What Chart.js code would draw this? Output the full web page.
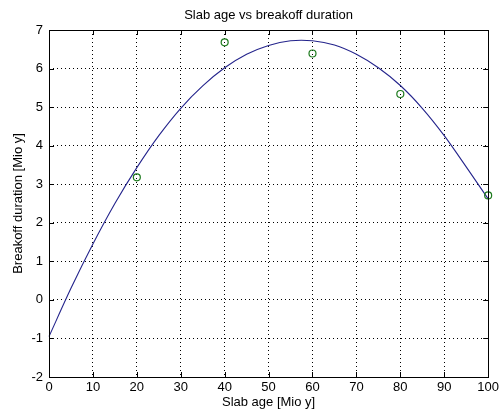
<!DOCTYPE html>
<html>
<head>
<meta charset="utf-8">
<script src="https://cdn.jsdelivr.net/npm/chart.js@4"></script>
<style>
  html, body { margin: 0; padding: 0; background: #ffffff; }
  #wrap { width: 502px; height: 415px; }
</style>
</head>
<body>
<div id="wrap"><canvas id="c" width="502" height="415"></canvas></div>
<script>
const chartTitle = 'Slab age vs breakoff duration';
const xAxisLabel = 'Slab age [Mio y]';
const yAxisLabel = 'Breakoff duration [Mio y]';

const xTicks = [0, 10, 20, 30, 40, 50, 60, 70, 80, 90, 100];
const yTicks = [-2, -1, 0, 1, 2, 3, 4, 5, 6, 7];

const sampleAges = [20, 40, 60, 80, 100];
const sampleDurations = [3.18, 6.68, 6.39, 5.34, 2.71];

const fitAges = [0, 5, 10, 15, 20, 25, 30, 35, 40, 45, 50, 55, 60, 65, 70, 75, 80, 85, 90, 95, 100];
const fitDurations = [-0.95, 0.30, 1.45, 2.50, 3.43, 4.26, 4.97, 5.55, 6.02, 6.37, 6.60, 6.72, 6.72, 6.61, 6.37, 6.02, 5.56, 4.97, 4.26, 3.45, 2.62];

const FONT = 'Liberation Sans, Arial, Helvetica, sans-serif';

const fitPoints = fitAges.map((x, i) => ({ x: x, y: fitDurations[i] }));
const samplePoints = sampleAges.map((x, i) => ({ x: x, y: sampleDurations[i] }));

const boxPlugin = {
  id: 'matlabBox',
  afterDraw(chart) {
    const ctx = chart.ctx;
    const a = chart.chartArea;
    const xs = chart.scales.x, ys = chart.scales.y;
    ctx.save();
    ctx.strokeStyle = '#000';
    ctx.lineWidth = 1;
    ctx.setLineDash([]);
    const L = 5;
    ctx.beginPath();
    xTicks.forEach(v => {
      const px = Math.round(xs.getPixelForValue(v)) + 0.5;
      ctx.moveTo(px, a.bottom); ctx.lineTo(px, a.bottom - L);
      ctx.moveTo(px, a.top); ctx.lineTo(px, a.top + L);
    });
    yTicks.forEach(v => {
      const py = Math.round(ys.getPixelForValue(v)) + 0.5;
      ctx.moveTo(a.left, py); ctx.lineTo(a.left + L, py);
      ctx.moveTo(a.right, py); ctx.lineTo(a.right - L, py);
    });
    ctx.stroke();
    ctx.strokeRect(Math.round(a.left) + 0.5, Math.round(a.top) + 0.5,
                   Math.round(a.right - a.left), Math.round(a.bottom - a.top));
    ctx.fillStyle = '#000';
    ctx.font = '13px ' + FONT;
    ctx.textAlign = 'center';
    ctx.textBaseline = 'middle';
    ctx.fillText(chartTitle, (a.left + a.right) / 2, 15);
    ctx.restore();
  }
};

new Chart(document.getElementById('c'), {
  type: 'scatter',
  data: {
    datasets: [
      {
        label: 'fit',
        data: fitPoints,
        showLine: true,
        borderColor: '#24248c',
        borderWidth: 1.1,
        pointRadius: 0,
        pointHoverRadius: 0,
        tension: 0.3,
        fill: false,
        clip: false,
        order: 2
      },
      {
        label: 'data',
        data: samplePoints,
        showLine: false,
        pointStyle: 'circle',
        pointRadius: 3.5,
        pointBorderWidth: 1.2,
        pointBorderColor: '#1d7a1d',
        pointBackgroundColor: 'rgba(0,0,0,0)',
        clip: false,
        order: 1
      }
    ]
  },
  options: {
    responsive: false,
    animation: false,
    devicePixelRatio: 1,
    layout: { padding: { left: 0, right: 13, top: 30, bottom: 0 } },
    plugins: {
      legend: { display: false },
      tooltip: { enabled: false },
      title: { display: false }
    },
    scales: {
      x: {
        type: 'linear',
        min: 0,
        max: 100,
        afterBuildTicks(scale) { scale.ticks = xTicks.map(v => ({ value: v })); },
        afterFit(scale) { scale.height = 38; },
        ticks: {
          color: '#000',
          font: { family: FONT, size: 13 },
          padding: 3,
          maxRotation: 0,
          autoSkip: false
        },
        grid: { color: '#000', lineWidth: 1, drawTicks: false },
        border: { display: false, dash: [1, 3] },
        title: {
          display: true,
          text: xAxisLabel,
          color: '#000',
          font: { family: FONT, size: 13 },
          padding: { top: 0, bottom: 5 }
        }
      },
      y: {
        type: 'linear',
        min: -2,
        max: 7,
        afterBuildTicks(scale) { scale.ticks = yTicks.map(v => ({ value: v })); },
        afterFit(scale) { scale.width = 49; },
        ticks: {
          color: '#000',
          font: { family: FONT, size: 13 },
          padding: 6,
          autoSkip: false
        },
        grid: { color: '#000', lineWidth: 1, drawTicks: false },
        border: { display: false, dash: [1, 3] },
        title: {
          display: true,
          text: yAxisLabel,
          color: '#000',
          font: { family: FONT, size: 13 },
          padding: { top: 11, bottom: 0 }
        }
      }
    }
  },
  plugins: [boxPlugin]
});
</script>
</body>
</html>
